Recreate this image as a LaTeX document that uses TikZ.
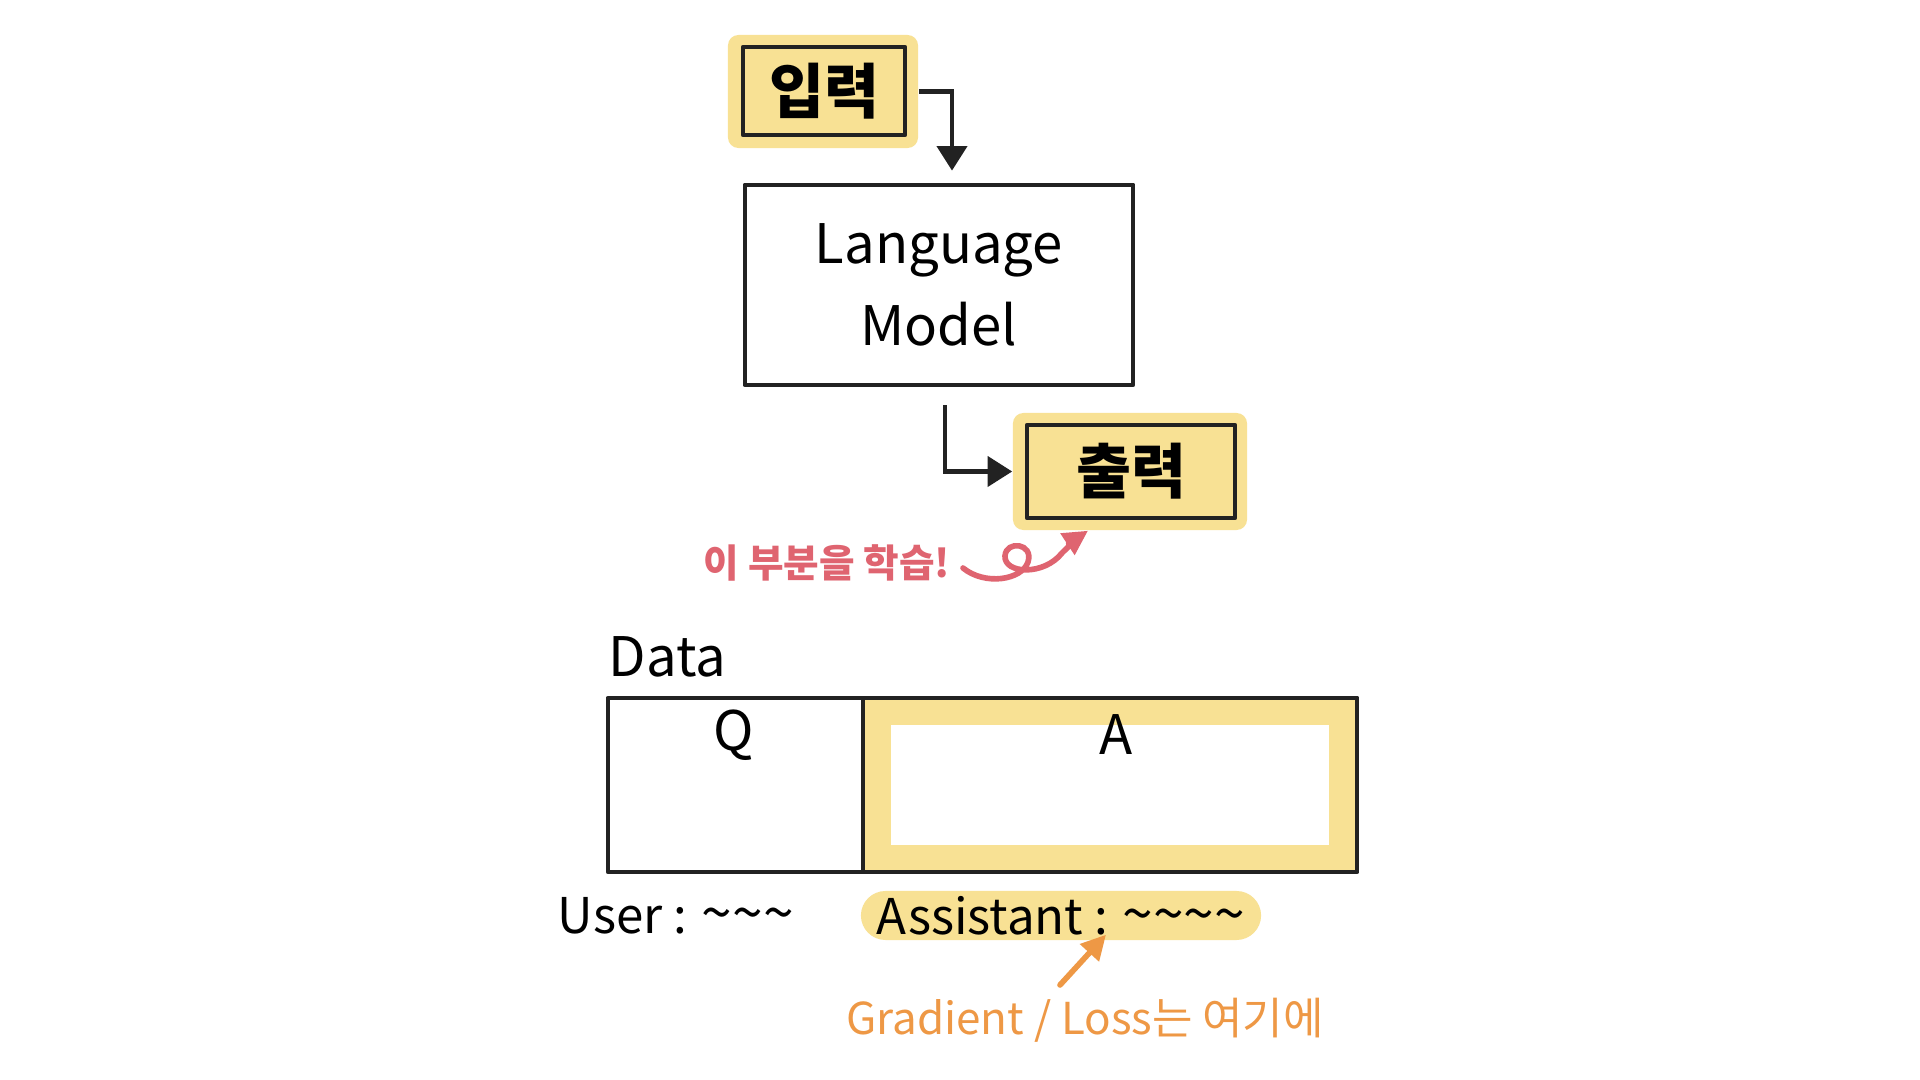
\documentclass[tikz,border=0pt]{standalone}
\usepackage{fontspec}
\usepackage{graphicx}
\setmainfont{Noto Sans CJK KR}
\usetikzlibrary{calc,arrows.meta}
\definecolor{ink}{HTML}{222222}
\definecolor{hl}{HTML}{F8E194}
\definecolor{redtxt}{HTML}{DF6470}
\definecolor{orgtxt}{HTML}{EE9845}
\newcommand\tld{\scalebox{1.12}[1.15]{\textasciitilde}}
\begin{document}
\begin{tikzpicture}[x=0.01cm,y=-0.01cm,
  box/.style={draw=ink,line width=1.3pt,inner sep=0pt,line join=round},
  hlbg/.style={fill=hl,rounded corners=3pt,inner sep=0pt},
  arr/.style={draw=ink,line width=1.3pt,-{Triangle[length=7pt,width=8.5pt]}},
  bigtxt/.style={font=\fontsize{15.5}{23.3}\selectfont},
  midtxt/.style={font=\fontsize{14}{16}\selectfont},
  kortxt/.style={font=\fontsize{17}{20}\selectfont\bfseries}]
\useasboundingbox[fill=white] (0,0) rectangle (1920,1080);

% input
\node[hlbg,minimum width=1.9cm,minimum height=1.13cm] (inbg) at (823,91.5) {};
\node[box,kortxt,minimum width=1.62cm,minimum height=0.88cm] (inbox) at (824,91) {입력};

% language model
\node[box,bigtxt,align=center,minimum width=3.88cm,minimum height=2.0cm] (lm) at (939,285) {Language\\Model};

% output
\node[hlbg,minimum width=2.34cm,minimum height=1.17cm] (outbg) at (1130,471.5) {};
\node[box,kortxt,minimum width=2.08cm,minimum height=0.93cm] (outbox) at (1131,471.5) {출력};

\draw[arr] (inbg.east) -| ($(lm.north)+(13,-12)$);
\draw[arr] ($(lm.south)+(6,18)$) |- (outbg.west);

% note
\node[font=\fontsize{11}{13}\selectfont\bfseries,text=redtxt] (note) at (827,563) {이 부분을 학습!};
\coordinate (curlstart) at (963,568);
\draw[redtxt,line width=1.6pt,line cap=round,-{Triangle[length=7pt,width=7pt]}]
  (curlstart) .. controls (985,586) and (1022,580) .. (1028,562)
  .. controls (1034,543) and (1006,540) .. (1005,556)
  .. controls (1004,574) and (1044,576) .. (1062,553)
  .. controls (1072,543) and (1080,536) .. ($(outbg.south)+(-42,0)$);

% data table
\node[anchor=west,inner sep=0pt,font=\fontsize{15.5}{18}\selectfont] (datalbl) at (608,657) {Data};
\node[box,minimum width=2.55cm,minimum height=1.74cm] (qcell) at (735.5,785) {};
\node[box,fill=hl,minimum width=4.94cm,minimum height=1.74cm] (acell) at (1110,785) {};
\node[fill=white,inner sep=0pt,minimum width=4.38cm,minimum height=1.2cm] (awhite) at (acell.center) {};
\node[bigtxt] (qlbl) at (734,735) {Q};
\node[bigtxt] (albl) at (1116,735) {A};

% labels
\node[anchor=west,inner sep=0pt,midtxt] (user) at (557,916) {User : \tld\tld\tld};
\node[fill=hl,rounded corners=7pt,inner sep=0pt,minimum width=4.0cm,minimum height=0.49cm,midtxt] (pill) at (1061,915.5) {Assistant : \tld\tld\tld\tld};

\node[font=\fontsize{12.5}{15}\selectfont,text=orgtxt] (grad) at (1085,1020) {Gradient / Loss는 여기에};
\coordinate (gtail) at (1060,985);
\draw[orgtxt,line width=1.6pt,line cap=round,-{Triangle[length=7pt,width=7pt]}] (gtail) -- ($(pill.south)+(45,-6)$);
\end{tikzpicture}
\end{document}
